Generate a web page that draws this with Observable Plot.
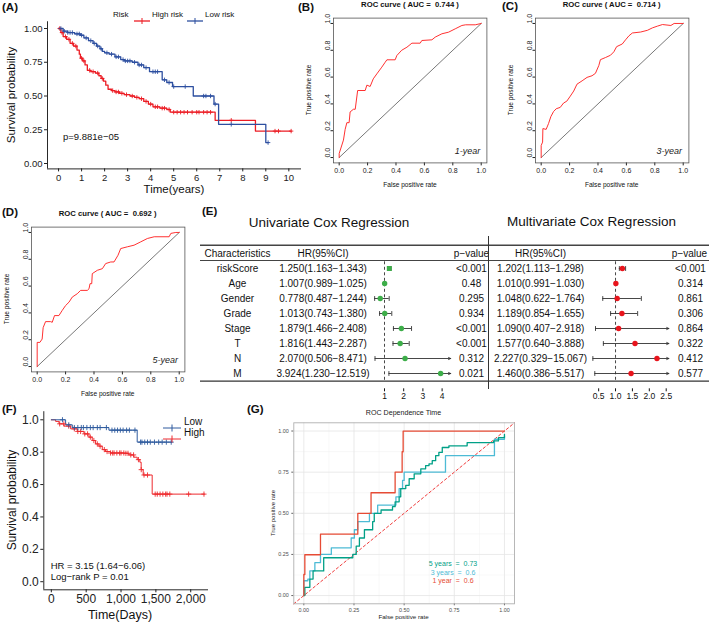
<!DOCTYPE html>
<html><head><meta charset="utf-8">
<script src="https://cdn.jsdelivr.net/npm/d3@7"></script>
<script src="https://cdn.jsdelivr.net/npm/@observablehq/plot@0.6"></script>
<style>
body{margin:0;background:#fff;}
#fig{position:relative;width:709px;height:624px;overflow:hidden;font-family:"Liberation Sans",Arial,Helvetica,sans-serif;color:#111;background:#fff;}
.t{position:absolute;white-space:pre;line-height:1;}
.p{position:absolute;}
</style></head><body><div id="fig"></div>
<script>
// ---------------- DATA ----------------
// (A) Kaplan-Meier, TCGA risk groups: [time (years), survival]
const kmHighRisk = [[0,1],[0.1,0.97],[0.2,0.94],[0.35,0.92],[0.5,0.89],[0.65,0.87],[0.8,0.84],[0.9,0.81],[0.95,0.78],[1.05,0.76],[1.15,0.73],[1.25,0.69],[1.4,0.68],[1.6,0.67],[1.75,0.65],[1.85,0.63],[1.95,0.61],[2.05,0.58],[2.15,0.55],[2.3,0.54],[2.45,0.53],[2.65,0.52],[2.85,0.51],[3.1,0.50],[3.3,0.49],[3.5,0.48],[3.7,0.46],[3.9,0.44],[4.1,0.42],[4.4,0.41],[4.7,0.40],[4.85,0.38],[6.8,0.32],[8.55,0.24],[10.1,0.24]];
const kmLowRisk = [[0,1],[0.2,0.98],[0.4,0.97],[0.7,0.96],[0.95,0.95],[1.1,0.93],[1.3,0.91],[1.5,0.89],[1.65,0.87],[1.8,0.85],[1.9,0.83],[2.0,0.82],[2.2,0.81],[2.45,0.79],[2.7,0.77],[2.85,0.76],[3.2,0.75],[3.45,0.73],[3.7,0.71],[3.95,0.68],[4.5,0.62],[4.7,0.60],[4.95,0.57],[5.85,0.50],[6.75,0.44],[6.95,0.29],[9.0,0.155],[9.1,0.155]];
const censorHighRisk = [0.05,0.15,0.3,0.45,0.6,0.75,1.0,1.1,1.35,1.5,1.7,1.9,2.35,2.5,2.6,2.75,2.95,3.2,3.4,3.6,3.8,4.0,4.2,4.3,4.5,4.6,4.8,5.0,5.15,5.3,5.45,5.6,5.8,6.0,6.1,6.3,6.45,6.6,7.5,9.4,9.55,10.1];
const censorLowRisk = [0.1,0.25,0.4,0.5,0.6,0.8,0.9,1.0,1.2,1.4,1.55,1.7,1.85,2.1,2.3,2.5,2.6,2.8,2.9,3.0,3.1,3.3,3.5,3.6,3.8,4.1,4.2,4.3,4.6,4.8,5.0,5.5,6.3,6.4,6.6,6.8,7.5,9.1];
const yearTicks = [0,1,2,3,4,5,6,7,8,9,10];
const survTicksA = [0,0.25,0.5,0.75,1];

// (B)(C)(D) time-dependent ROC: false positive rate / true positive rate
const fpr1y = [0,0,0.03,0.042,0.054,0.07,0.077,0.1,0.113,0.13,0.183,0.195,0.218,0.24,0.265,0.3,0.324,0.336,0.394,0.406,0.44,0.477,0.512,0.57,0.582,0.653,0.676,0.723,0.77,0.817,0.864,0.89,0.958,1];
const tpr1y = [0,0.03,0.13,0.21,0.26,0.26,0.34,0.36,0.36,0.5,0.5,0.54,0.53,0.587,0.624,0.674,0.711,0.729,0.729,0.761,0.8,0.823,0.853,0.853,0.873,0.878,0.898,0.923,0.935,0.96,0.985,0.99,0.99,1];
const fpr3y = [0,0,0.01,0.012,0.035,0.052,0.068,0.087,0.106,0.134,0.158,0.18,0.205,0.229,0.252,0.288,0.323,0.358,0.382,0.406,0.417,0.453,0.488,0.512,0.531,0.571,0.594,0.618,0.642,0.7,0.748,0.783,0.818,0.854,0.913,0.936,1];
const tpr3y = [0,0.09,0.115,0.216,0.21,0.254,0.305,0.343,0.364,0.374,0.407,0.42,0.458,0.496,0.547,0.572,0.598,0.61,0.628,0.687,0.73,0.746,0.763,0.789,0.827,0.847,0.878,0.908,0.929,0.936,0.949,0.967,0.98,0.992,0.985,1,1];
const fpr5y = [0,0,0.019,0.035,0.042,0.059,0.094,0.106,0.122,0.153,0.176,0.2,0.224,0.247,0.282,0.306,0.353,0.365,0.372,0.384,0.388,0.424,0.459,0.482,0.518,0.541,0.569,0.588,0.635,0.682,0.729,0.776,0.824,0.929,0.941,0.976,1];
const tpr5y = [0,0.18,0.18,0.205,0.29,0.335,0.335,0.33,0.38,0.38,0.418,0.455,0.48,0.518,0.543,0.568,0.568,0.58,0.618,0.618,0.693,0.718,0.73,0.768,0.78,0.78,0.83,0.88,0.893,0.905,0.93,0.955,0.968,0.968,0.993,1,1];
const rocTicks = [0,0.2,0.4,0.6,0.8,1];

// (E) Cox regression
const characteristics = ["riskScore","Age","Gender","Grade","Stage","T","N","M"];
const uniHR   = [1.250,1.007,0.778,1.013,1.879,1.816,2.070,3.924];
const uniLow  = [1.163,0.989,0.487,0.743,1.466,1.443,0.506,1.230];
const uniHigh = [1.343,1.025,1.244,1.380,2.408,2.287,8.471,12.519];
const uniP    = ["<0.001","0.48","0.295","0.934","<0.001","<0.001","0.312","0.021"];
const multiHR   = [1.202,1.010,1.048,1.189,1.090,1.577,2.227,1.460];
const multiLow  = [1.113,0.991,0.622,0.854,0.407,0.640,0.329,0.386];
const multiHigh = [1.298,1.030,1.764,1.655,2.918,3.888,15.067,5.517];
const multiP    = ["<0.001","0.314","0.861","0.306","0.864","0.322","0.412","0.577"];
const uniTicks = [1,2,3,4];
const multiTicks = [0.5,1.0,1.5,2.0,2.5];

// (F) Kaplan-Meier, validation cohort: [time (days), survival]
const kmLow = [[0,1],[205,0.969],[301,0.952],[826,0.936],[1232,0.862],[1733,0.862]];
const kmHigh = [[0,1],[62,0.99],[110,0.975],[181,0.961],[277,0.944],[372,0.928],[468,0.913],[540,0.893],[587,0.872],[635,0.851],[683,0.837],[731,0.816],[778,0.804],[850,0.795],[1041,0.793],[1113,0.783],[1184,0.769],[1232,0.754],[1270,0.738],[1289,0.692],[1318,0.659],[1447,0.541],[2197,0.541]];
const censorLow = [160,250,330,380,430,460,510,560,600,660,700,790,870,910,950,990,1030,1080,1120,1200,1280,1300,1340,1380,1420,1480,1540,1590,1650,1720];
const censorHigh = [120,180,250,330,380,420,480,520,560,610,660,700,760,800,850,880,900,940,980,1000,1040,1070,1100,1140,1180,1250,1290,1330,1380,1490,1520,1560,1600,1640,1660,1700,1970,2190];
const dayTicks = [0,500,1000,1500,2000];
const survTicksF = [0,0.2,0.4,0.6,0.8,1];

// (G) ROC dependence time: step points [fpr, tpr]
const roc1year = [[0,0],[0,0.128],[0.005,0.248],[0.083,0.373],[0.269,0.499],[0.335,0.625],[0.455,0.75],[0.49,0.874],[0.495,1],[1,1]];
const roc3year = [[0,0],[0,0.09],[0.02,0.1],[0.03,0.15],[0.055,0.2],[0.083,0.25],[0.137,0.29],[0.236,0.35],[0.252,0.4],[0.269,0.45],[0.327,0.5],[0.368,0.55],[0.459,0.6],[0.475,0.65],[0.492,0.7],[0.5,0.75],[0.706,0.85],[0.95,0.95],[1,0.97]];
const roc5year = [[0,0],[0.005,0.05],[0.03,0.1],[0.046,0.15],[0.099,0.23],[0.244,0.25],[0.261,0.3],[0.277,0.35],[0.302,0.4],[0.343,0.45],[0.351,0.5],[0.385,0.52],[0.442,0.54],[0.455,0.57],[0.475,0.6],[0.483,0.65],[0.508,0.67],[0.525,0.71],[0.55,0.74],[0.583,0.77],[0.607,0.79],[0.624,0.8],[0.64,0.82],[0.657,0.85],[0.673,0.87],[0.69,0.9],[0.723,0.91],[0.814,0.93],[0.946,0.94],[0.97,0.96],[1,0.98]];
const gTicks = [0,0.25,0.5,0.75,1];
const gMinor = [0.125,0.375,0.625,0.875];

// ---------------- HELPERS ----------------
const FONT = '"Liberation Sans", Arial, Helvetica, sans-serif';
const fig = document.getElementById("fig");
function text(s, x, y, o = {}) {
  const d = document.createElement("div");
  d.className = "t";
  d.textContent = s;
  const a = o.anchor || "middle";
  const tx = a === "start" ? "0" : a === "end" ? "-100%" : "-50%";
  d.style.left = x + "px"; d.style.top = y + "px";
  d.style.fontSize = (o.size || 10) + "px";
  if (o.weight) d.style.fontWeight = o.weight;
  if (o.italic) d.style.fontStyle = "italic";
  if (o.color) d.style.color = o.color;
  d.style.transform = `translate(${tx},-50%)` + (o.rotate ? ` rotate(${o.rotate}deg)` : "");
  fig.appendChild(d);
}
function place(el, x, y) {
  const d = document.createElement("div");
  d.className = "p"; d.style.left = x + "px"; d.style.top = y + "px";
  d.appendChild(el); fig.appendChild(d);
}
function html(s, x, y) {
  const d = document.createElement("div");
  d.className = "p"; d.style.left = x + "px"; d.style.top = y + "px";
  d.innerHTML = s; fig.appendChild(d);
}
const vbar = {draw(ctx, size) {const r = Math.sqrt(size / Math.PI); ctx.moveTo(0, -r); ctx.lineTo(0, r);}};
const plus = {draw(ctx, size) {const r = Math.sqrt(size / Math.PI); ctx.moveTo(-r, 0); ctx.lineTo(r, 0); ctx.moveTo(0, -r); ctx.lineTo(0, r);}};
function stepAt(pts, t) { let s = pts[0][1]; for (const [ti, si] of pts) { if (ti <= t) s = si; else break; } return s; }
const st = (fs, color = "#222") => ({fontFamily: FONT, fontSize: fs + "px", color, background: "none", overflow: "visible"});

const RED = "#EC1C24", BLUE = "#2D4FA0";

// ---------------- (A) ----------------
const xDomA = [-0.48, 10.55], yDomA = [-0.04, 1.05];
place(Plot.plot({
  width: 305, height: 200, marginLeft: 47, marginRight: 4, marginTop: 21.25, marginBottom: 31.6,
  x: {domain: xDomA}, y: {domain: yDomA}, style: st(9.5),
  marks: [
    Plot.axisX({ticks: yearTicks, tickSize: 3, tickPadding: 2, label: null, fontSize: 9.5}),
    Plot.axisY({ticks: survTicksA, tickFormat: d3.format(".2f"), tickSize: 3, tickPadding: 2, label: null, fontSize: 9.5}),
    Plot.ruleX([xDomA[0]], {stroke: "#111", strokeWidth: 0.9}),
    Plot.ruleY([yDomA[0]], {stroke: "#111", strokeWidth: 0.9}),
    Plot.line(kmHighRisk, {x: d => d[0], y: d => d[1], curve: "step-after", stroke: RED, strokeWidth: 1.3}),
    Plot.line(kmLowRisk, {x: d => d[0], y: d => d[1], curve: "step-after", stroke: BLUE, strokeWidth: 1.3}),
    Plot.dot(censorHighRisk, {x: d => d, y: d => stepAt(kmHighRisk, d), symbol: plus, r: 2.2, fill: "none", stroke: RED, strokeWidth: 0.9}),
    Plot.dot(censorLowRisk, {x: d => d, y: d => stepAt(kmLowRisk, d), symbol: plus, r: 2.2, fill: "none", stroke: BLUE, strokeWidth: 0.9})
  ]
}), 0, 0);
text("(A)", 2, 8, {anchor: "start", size: 11.5, weight: "bold"});
text("Survival probability", 12, 95, {size: 11.5, rotate: -90});
text("Time(years)", 174, 190, {size: 11.5});
text("p=9.881e\u221205", 63, 137, {anchor: "start", size: 9.5});
text("Risk", 113, 15, {anchor: "start", size: 8});
html(`<svg width="16" height="8"><line x1="0" y1="4" x2="16" y2="4" stroke="${RED}" stroke-width="1.3"/><line x1="8" y1="1" x2="8" y2="7" stroke="${RED}" stroke-width="1"/></svg>`, 134, 11);
text("High risk", 152, 15, {anchor: "start", size: 8});
html(`<svg width="16" height="8"><line x1="0" y1="4" x2="16" y2="4" stroke="${BLUE}" stroke-width="1.3"/><line x1="8" y1="1" x2="8" y2="7" stroke="${BLUE}" stroke-width="1"/></svg>`, 187, 11);
text("Low risk", 205, 15, {anchor: "start", size: 8});

// ---------------- (B)(C)(D) ----------------
const rocDom = [-0.04, 1.04];
function rocPlot(fpr, tpr) {
  const pts = fpr.map((f, i) => ({f, t: tpr[i]}));
  const f1 = d3.format(".1f");
  return Plot.plot({
    width: 175, height: 180, marginLeft: 15, marginRight: 6.6, marginTop: 17.6, marginBottom: 17.6,
    x: {domain: rocDom}, y: {domain: rocDom}, style: st(7, "#222"),
    marks: [
      Plot.axisX({ticks: rocTicks, tickFormat: f1, tickSize: 3, tickPadding: 2.5, label: null, fontSize: 7}),
      Plot.axisY({ticks: rocTicks, tickFormat: () => "", tickSize: 2.5, label: null}),
      Plot.text(rocTicks, {y: d => d, text: d => f1(d), frameAnchor: "left", dx: -6, rotate: -90, fontSize: 7, fill: "#222"}),
      Plot.frame({stroke: "#555", strokeWidth: 0.8}),
      Plot.line(rocTicks.filter(d => d === 0 || d === 1), {x: d => d, y: d => d, stroke: "#555", strokeWidth: 0.8}),
      Plot.line(pts, {x: "f", y: "t", stroke: "#FF1A1A", strokeWidth: 0.9})
    ]
  });
}
function rocText(title, tag, bx, by) { // bx, by: box left / top on page
  const w = 153.4, h = 144.8;
  text(title, bx + w / 2, by - 12.5, {size: 7.7, weight: "bold"});
  text("True positive rate", bx - 24, by + h / 2, {size: 6.6, rotate: -90});
  text("False positive rate", bx + w / 2, by + h + 22.5, {size: 6.6});
  text(tag, bx + w - 6.5, by + h - 11.4, {anchor: "end", size: 9, italic: true, color: "#222"});
}
place(rocPlot(fpr1y, tpr1y), 318.3, 0);
rocText("ROC curve ( AUC =  0.744 )", "1-year", 333.3, 17.6);
text("(B)", 298, 8, {anchor: "start", size: 11.5, weight: "bold"});
place(rocPlot(fpr3y, tpr3y), 520, 0);
rocText("ROC curve ( AUC =  0.714 )", "3-year", 535, 17.6);
text("(C)", 502, 7, {anchor: "start", size: 11.5, weight: "bold"});
place(rocPlot(fpr5y, tpr5y), 16, 209);
rocText("ROC curve ( AUC =  0.692 )", "5-year", 31, 226.6);
text("(D)", 2, 213, {anchor: "start", size: 11.5, weight: "bold"});

// ---------------- (E) ----------------
const fmt3 = d3.format(".3f");
function forest(hr, lo, hi, pv, o) {
  const rows = characteristics.map((name, i) => ({name, hr: hr[i], lo: lo[i], hi: hi[i], p: pv[i],
    label: `${fmt3(hr[i])}(${fmt3(lo[i])}\u2212${fmt3(hi[i])})`}));
  const xmax = o.dom[1];
  const clipped = rows.filter(d => d.hi > xmax), open = rows.filter(d => d.hi <= xmax);
  const headers = o.headers;
  return Plot.plot({
    width: o.width, height: 175, marginLeft: 0, marginRight: 0, marginTop: 0, marginBottom: 16.7,
    x: {domain: o.dom, range: o.range},
    y: {type: "point", domain: ["hdr", ...characteristics], range: [15, 150.7], axis: null},
    style: st(10, "#111"),
    marks: [
      Plot.axisX({ticks: o.ticks, tickFormat: o.tickFmt, tickSize: 3, tickPadding: 1.5, label: null, fontSize: 8.5}),
      Plot.ruleY(["hdr"], {dy: -8.3, stroke: "#444", strokeWidth: 1.5}),
      Plot.ruleY(["hdr"], {dy: 7, stroke: "#444", strokeWidth: 1}),
      Plot.ruleY(["M"], {dy: 7.6, stroke: "#333", strokeWidth: 1.2}),
      Plot.ruleX([1], {y1: () => "riskScore", y2: () => "M", insetTop: -6.7, insetBottom: -7.6, stroke: "#333", strokeDasharray: "3,2.5", strokeWidth: 0.9}),
      Plot.ruleY(open, {y: "name", x1: "lo", x2: "hi", stroke: "#333", strokeWidth: 0.9}),
      Plot.arrow(clipped, {x1: "lo", x2: () => xmax, y1: "name", y2: "name", stroke: "#333", strokeWidth: 0.9, headLength: 4, headAngle: 50}),
      Plot.dot(rows, {x: "lo", y: "name", symbol: vbar, r: 2.4, fill: "none", stroke: "#333", strokeWidth: 0.9}),
      Plot.dot(open, {x: "hi", y: "name", symbol: vbar, r: 2.4, fill: "none", stroke: "#333", strokeWidth: 0.9}),
      Plot.dot(rows.filter(d => d.name !== "riskScore" || !o.square), {x: "hr", y: "name", r: 2.7, fill: o.color}),
      Plot.dot(rows.filter(d => d.name === "riskScore" && o.square), {x: "hr", y: "name", r: 2.8, symbol: "square", fill: o.color}),
      ...o.cols.map(c => Plot.text(rows, {y: "name", text: c.field, frameAnchor: "left", dx: c.x, textAnchor: "middle", fontSize: 10})),
      ...headers.map(h => Plot.text([h.text], {y: () => "hdr", text: d => d, frameAnchor: "left", dx: h.x, textAnchor: "middle", fontSize: 10}))
    ]
  });
}
place(forest(uniHR, uniLow, uniHigh, uniP, {
  width: 289, dom: [0.45, 4.45], range: [173.44, 250.24], ticks: uniTicks, tickFmt: d3.format("d"),
  color: "#3DAE49", square: true,
  cols: [{field: "name", x: 37}, {field: "label", x: 122.5}, {field: "p", x: 271}],
  headers: [{text: "Characteristics", x: 37}, {text: "HR(95%CI)", x: 122.5}, {text: "p\u2212value", x: 271}]
}), 200, 230);
place(forest(multiHR, multiLow, multiHigh, multiP, {
  width: 220, dom: [0.33, 2.58], range: [103.4, 179.4], ticks: multiTicks, tickFmt: d3.format(".1f"),
  color: "#E8141C", square: false,
  cols: [{field: "label", x: 51}, {field: "p", x: 201}],
  headers: [{text: "HR(95%CI)", x: 51}, {text: "p\u2212value", x: 200}]
}), 489, 230);
html('<div style="width:0;height:153px;border-left:1.2px solid #333"></div>', 488.4, 235.5);
text("(E)", 202, 212, {anchor: "start", size: 11.5, weight: "bold"});
text("Univariate Cox Regression", 329, 223, {size: 13.5});
text("Multivariate Cox Regression", 591.5, 222, {size: 13.5});

// ---------------- (F) ----------------
const xDomF = [-108, 2255], yDomF = [-0.05, 1.05];
const RED2 = "#EE2A2E", BLUE2 = "#2F5B9E";
place(Plot.plot({
  width: 215, height: 229, marginLeft: 43.3, marginRight: 7, marginTop: 16.2, marginBottom: 34.7,
  x: {domain: xDomF}, y: {domain: yDomF}, style: st(12, "#222"),
  marks: [
    Plot.axisX({ticks: dayTicks, tickSize: 3, tickPadding: 2, label: null, fontSize: 12}),
    Plot.axisY({ticks: survTicksF, tickFormat: d3.format(".1f"), tickSize: 3, tickPadding: 2, label: null, fontSize: 12}),
    Plot.ruleX([xDomF[0]], {stroke: "#111", strokeWidth: 0.9}),
    Plot.ruleY([yDomF[0]], {stroke: "#111", strokeWidth: 0.9}),
    Plot.line(kmHigh, {x: d => d[0], y: d => d[1], curve: "step-after", stroke: RED2, strokeWidth: 1}),
    Plot.line(kmLow, {x: d => d[0], y: d => d[1], curve: "step-after", stroke: BLUE2, strokeWidth: 1}),
    Plot.dot(censorHigh, {x: d => d, y: d => stepAt(kmHigh, d), symbol: plus, r: 2.6, fill: "none", stroke: RED2, strokeWidth: 0.9}),
    Plot.dot(censorLow, {x: d => d, y: d => stepAt(kmLow, d), symbol: plus, r: 2.6, fill: "none", stroke: BLUE2, strokeWidth: 0.9})
  ]
}), 0, 395);
text("(F)", 2, 410, {anchor: "start", size: 11.5, weight: "bold"});
text("Survival probability", 12, 500, {size: 12, rotate: -90});
text("Time(Days)", 120, 615, {size: 12.5});
text("HR = 3.15 (1.64\u22126.06)", 50.7, 565.7, {anchor: "start", size: 9.5});
text("Log\u2212rank P = 0.01", 50.7, 576.7, {anchor: "start", size: 9.5});
html(`<svg width="18" height="8"><line x1="0" y1="4" x2="18" y2="4" stroke="${BLUE2}" stroke-width="1"/><line x1="9" y1="0.5" x2="9" y2="7.5" stroke="${BLUE2}" stroke-width="1"/></svg>`, 163, 418);
text("Low", 184, 422, {anchor: "start", size: 10});
html(`<svg width="18" height="8"><line x1="0" y1="4" x2="18" y2="4" stroke="${RED2}" stroke-width="1"/><line x1="9" y1="0.5" x2="9" y2="7.5" stroke="${RED2}" stroke-width="1"/></svg>`, 163, 428.7);
text("High", 184, 432.7, {anchor: "start", size: 10});

// ---------------- (G) ----------------
const C1 = "#E64B35", C3 = "#4DBBD5", C5 = "#00A087";
const gDom = [-0.05, 1.05];
place(Plot.plot({
  width: 280, height: 229, marginLeft: 53.3, marginRight: 6, marginTop: 27.3, marginBottom: 20.7,
  x: {domain: gDom}, y: {domain: gDom}, style: st(5.4, "#4d4d4d"),
  marks: [
    Plot.gridX(gMinor, {stroke: "#f0f0f0", strokeOpacity: 1, strokeWidth: 0.5}),
    Plot.gridY(gMinor, {stroke: "#f0f0f0", strokeOpacity: 1, strokeWidth: 0.5}),
    Plot.gridX(gTicks, {stroke: "#e4e4e4", strokeOpacity: 1, strokeWidth: 0.8}),
    Plot.gridY(gTicks, {stroke: "#e4e4e4", strokeOpacity: 1, strokeWidth: 0.8}),
    Plot.axisX({ticks: gTicks, tickFormat: d3.format(".2f"), tickSize: 2, tickPadding: 2, label: null, fontSize: 5.4, stroke: "#666"}),
    Plot.axisY({ticks: gTicks, tickFormat: d3.format(".2f"), tickSize: 2, tickPadding: 3, label: null, fontSize: 5.4, stroke: "#666"}),
    Plot.line(gDom, {x: d => d, y: d => d, stroke: "#F03C3C", strokeDasharray: "2.5,2.5", strokeWidth: 1}),
    Plot.line(roc3year, {x: d => d[0], y: d => d[1], curve: "step-after", stroke: C3, strokeWidth: 1.3}),
    Plot.line(roc5year, {x: d => d[0], y: d => d[1], curve: "step-after", stroke: C5, strokeWidth: 1.3}),
    Plot.line(roc1year, {x: d => d[0], y: d => d[1], curve: "step-after", stroke: C1, strokeWidth: 1.3}),
    Plot.frame({stroke: "#b0b0b0", strokeWidth: 0.9})
  ]
}), 240, 395);
text("(G)", 247, 410, {anchor: "start", size: 11.5, weight: "bold"});
text("ROC Dependence Time", 403.5, 414, {size: 7.1, color: "#222"});
text("True positive rate", 273.3, 513, {size: 6, rotate: -90, color: "#222"});
text("False positive rate", 403.5, 617, {size: 6.2, color: "#222"});
text("5 years  =  0.73", 453, 563.3, {size: 7, color: C5});
text("3 years  =  0.6", 453, 571.7, {size: 7, color: C3});
text("1 year  =  0.6", 453, 580, {size: 7, color: C1});
</script></body></html>
